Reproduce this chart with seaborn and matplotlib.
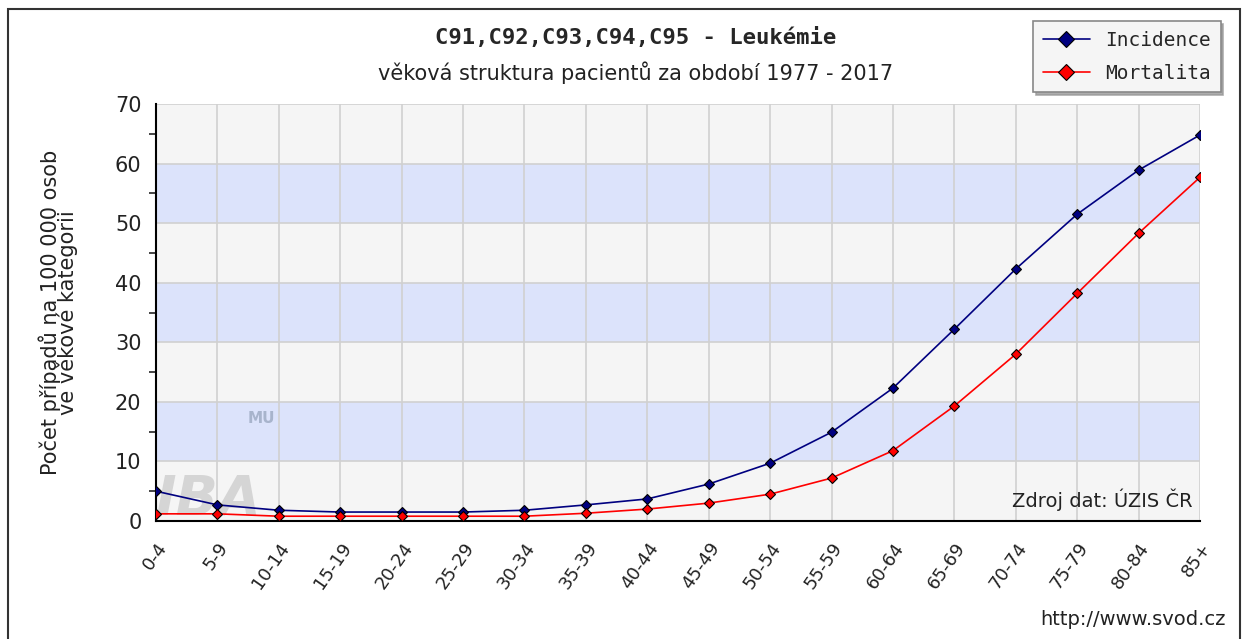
import numpy as np
import pandas as pd
import seaborn as sns
import matplotlib.pyplot as plt
from matplotlib.patches import Rectangle

# age groups and rates per 100 000
age_groups = ["0-4", "5-9", "10-14", "15-19", "20-24", "25-29", "30-34", "35-39",
              "40-44", "45-49", "50-54", "55-59", "60-64", "65-69", "70-74",
              "75-79", "80-84", "85+"]
incidence = [5.0, 2.7, 1.8, 1.5, 1.5, 1.5, 1.8, 2.7, 3.7, 6.2, 9.7, 14.9,
             22.3, 32.2, 42.3, 51.5, 58.9, 64.8]
mortalita = [1.2, 1.2, 0.8, 0.8, 0.8, 0.8, 0.8, 1.3, 2.0, 3.0, 4.5, 7.2,
             11.8, 19.3, 28.0, 38.2, 48.3, 57.7]
y_ticks = [0, 10, 20, 30, 40, 50, 60, 70]

df = pd.concat([
    pd.DataFrame({"vek": age_groups, "hodnota": incidence, "serie": "Incidence"}),
    pd.DataFrame({"vek": age_groups, "hodnota": mortalita, "serie": "Mortalita"}),
])

sns.set_style("white")
plt.rcParams['font.family'] = ['DejaVu Sans']

fig = plt.figure(figsize=(12.44, 6.39), dpi=100)
ax = fig.add_axes([0.1254, 0.1847, 0.8392, 0.6525])

# alternating background bands
for lo in range(0, 70, 10):
    col = "#dce3fb" if (lo // 10) % 2 == 1 else "#f5f5f5"
    ax.axhspan(lo, lo + 10, color=col, zorder=0, lw=0)

# faint watermark
ax.text(0.0, -1.0, "IBA", fontsize=40, fontweight="bold", style="italic",
        color="#bbbbbb", alpha=0.55, zorder=1, ha="left", va="bottom")
ax.text(1.5, 16.5, "MU", fontsize=11, fontweight="bold", color="#a8b4cc",
        zorder=1)

palette = {"Incidence": "#000080", "Mortalita": "#ff0000"}
sns.lineplot(data=df, x="vek", y="hodnota", hue="serie", palette=palette,
             marker="D", markersize=5.5, markeredgecolor="black",
             markeredgewidth=0.8, linewidth=1.2, sort=False, ax=ax,
             zorder=3, legend=False)

ax.set_xlim(0, len(age_groups) - 1)
ax.set_ylim(0, 70)
ax.set_yticks(y_ticks)
ax.set_yticks(range(5, 70, 10), minor=True)
ax.set_xticks(range(len(age_groups)))
ax.set_xticklabels(age_groups, rotation=55, ha="right", rotation_mode="anchor",
                   fontsize=13, color="#222222")
ax.tick_params(axis="y", labelsize=15, length=7, width=1.2, colors="black",
               labelcolor="#222222")
ax.tick_params(axis="y", which="minor", length=5, width=1.2, left=True)
ax.tick_params(axis="x", length=7, width=1.2, pad=6)
ax.grid(True, which="major", color="#d0d0d0", linewidth=1.2, zorder=1)
ax.set_axisbelow(True)
for s in ["top", "right"]:
    ax.spines[s].set_visible(False)
for s in ["left", "bottom"]:
    ax.spines[s].set_color("black")
    ax.spines[s].set_linewidth(1.5)
ax.set_xlabel("")
ax.set_ylabel("Počet případů na 100 000 osob\nve věkové kategorii", fontsize=15,
              linespacing=0.7, color="#222222")
ax.yaxis.set_label_coords(-0.075, 0.5)

ax.text(0.993, 0.025, "Zdroj dat: ÚZIS ČR", transform=ax.transAxes,
        ha="right", va="bottom", fontsize=14, color="#222222")

fig.text(0.511, 0.942, "C91,C92,C93,C94,C95 - Leukémie", ha="center",
         va="center", fontsize=16, fontweight="bold", family="DejaVu Sans Mono")
fig.text(0.511, 0.887, "věková struktura pacientů za období 1977 - 2017",
         ha="center", va="center", fontsize=15, color="#222222")
fig.text(0.985, 0.03, "http://www.svod.cz", ha="right", va="center",
         fontsize=14, color="#222222")

# outer frame
fig.patches.append(Rectangle((0.0065, -0.01), 0.99, 0.996, transform=fig.transFigure,
                             fill=False, edgecolor="#333333", linewidth=1.5))

# legend
handles = [plt.Line2D([], [], color=palette[k], marker="D", markersize=8,
                      markeredgecolor="black", markeredgewidth=0.8, lw=1.2)
           for k in ["Incidence", "Mortalita"]]
leg = fig.legend(handles, ["Incidence", "Mortalita"], loc="upper right",
                 bbox_to_anchor=(0.989, 0.982), prop={"family": "DejaVu Sans Mono", "size": 14},
                 frameon=True, fancybox=False, shadow={"color": "#999999", "alpha": 0.8},
                 edgecolor="#888888", facecolor="#f5f5f5", framealpha=1,
                 handlelength=2.4, borderpad=0.5, labelspacing=0.7)
leg.get_frame().set_linewidth(1.2)

fig.savefig("out.png", dpi=100)
